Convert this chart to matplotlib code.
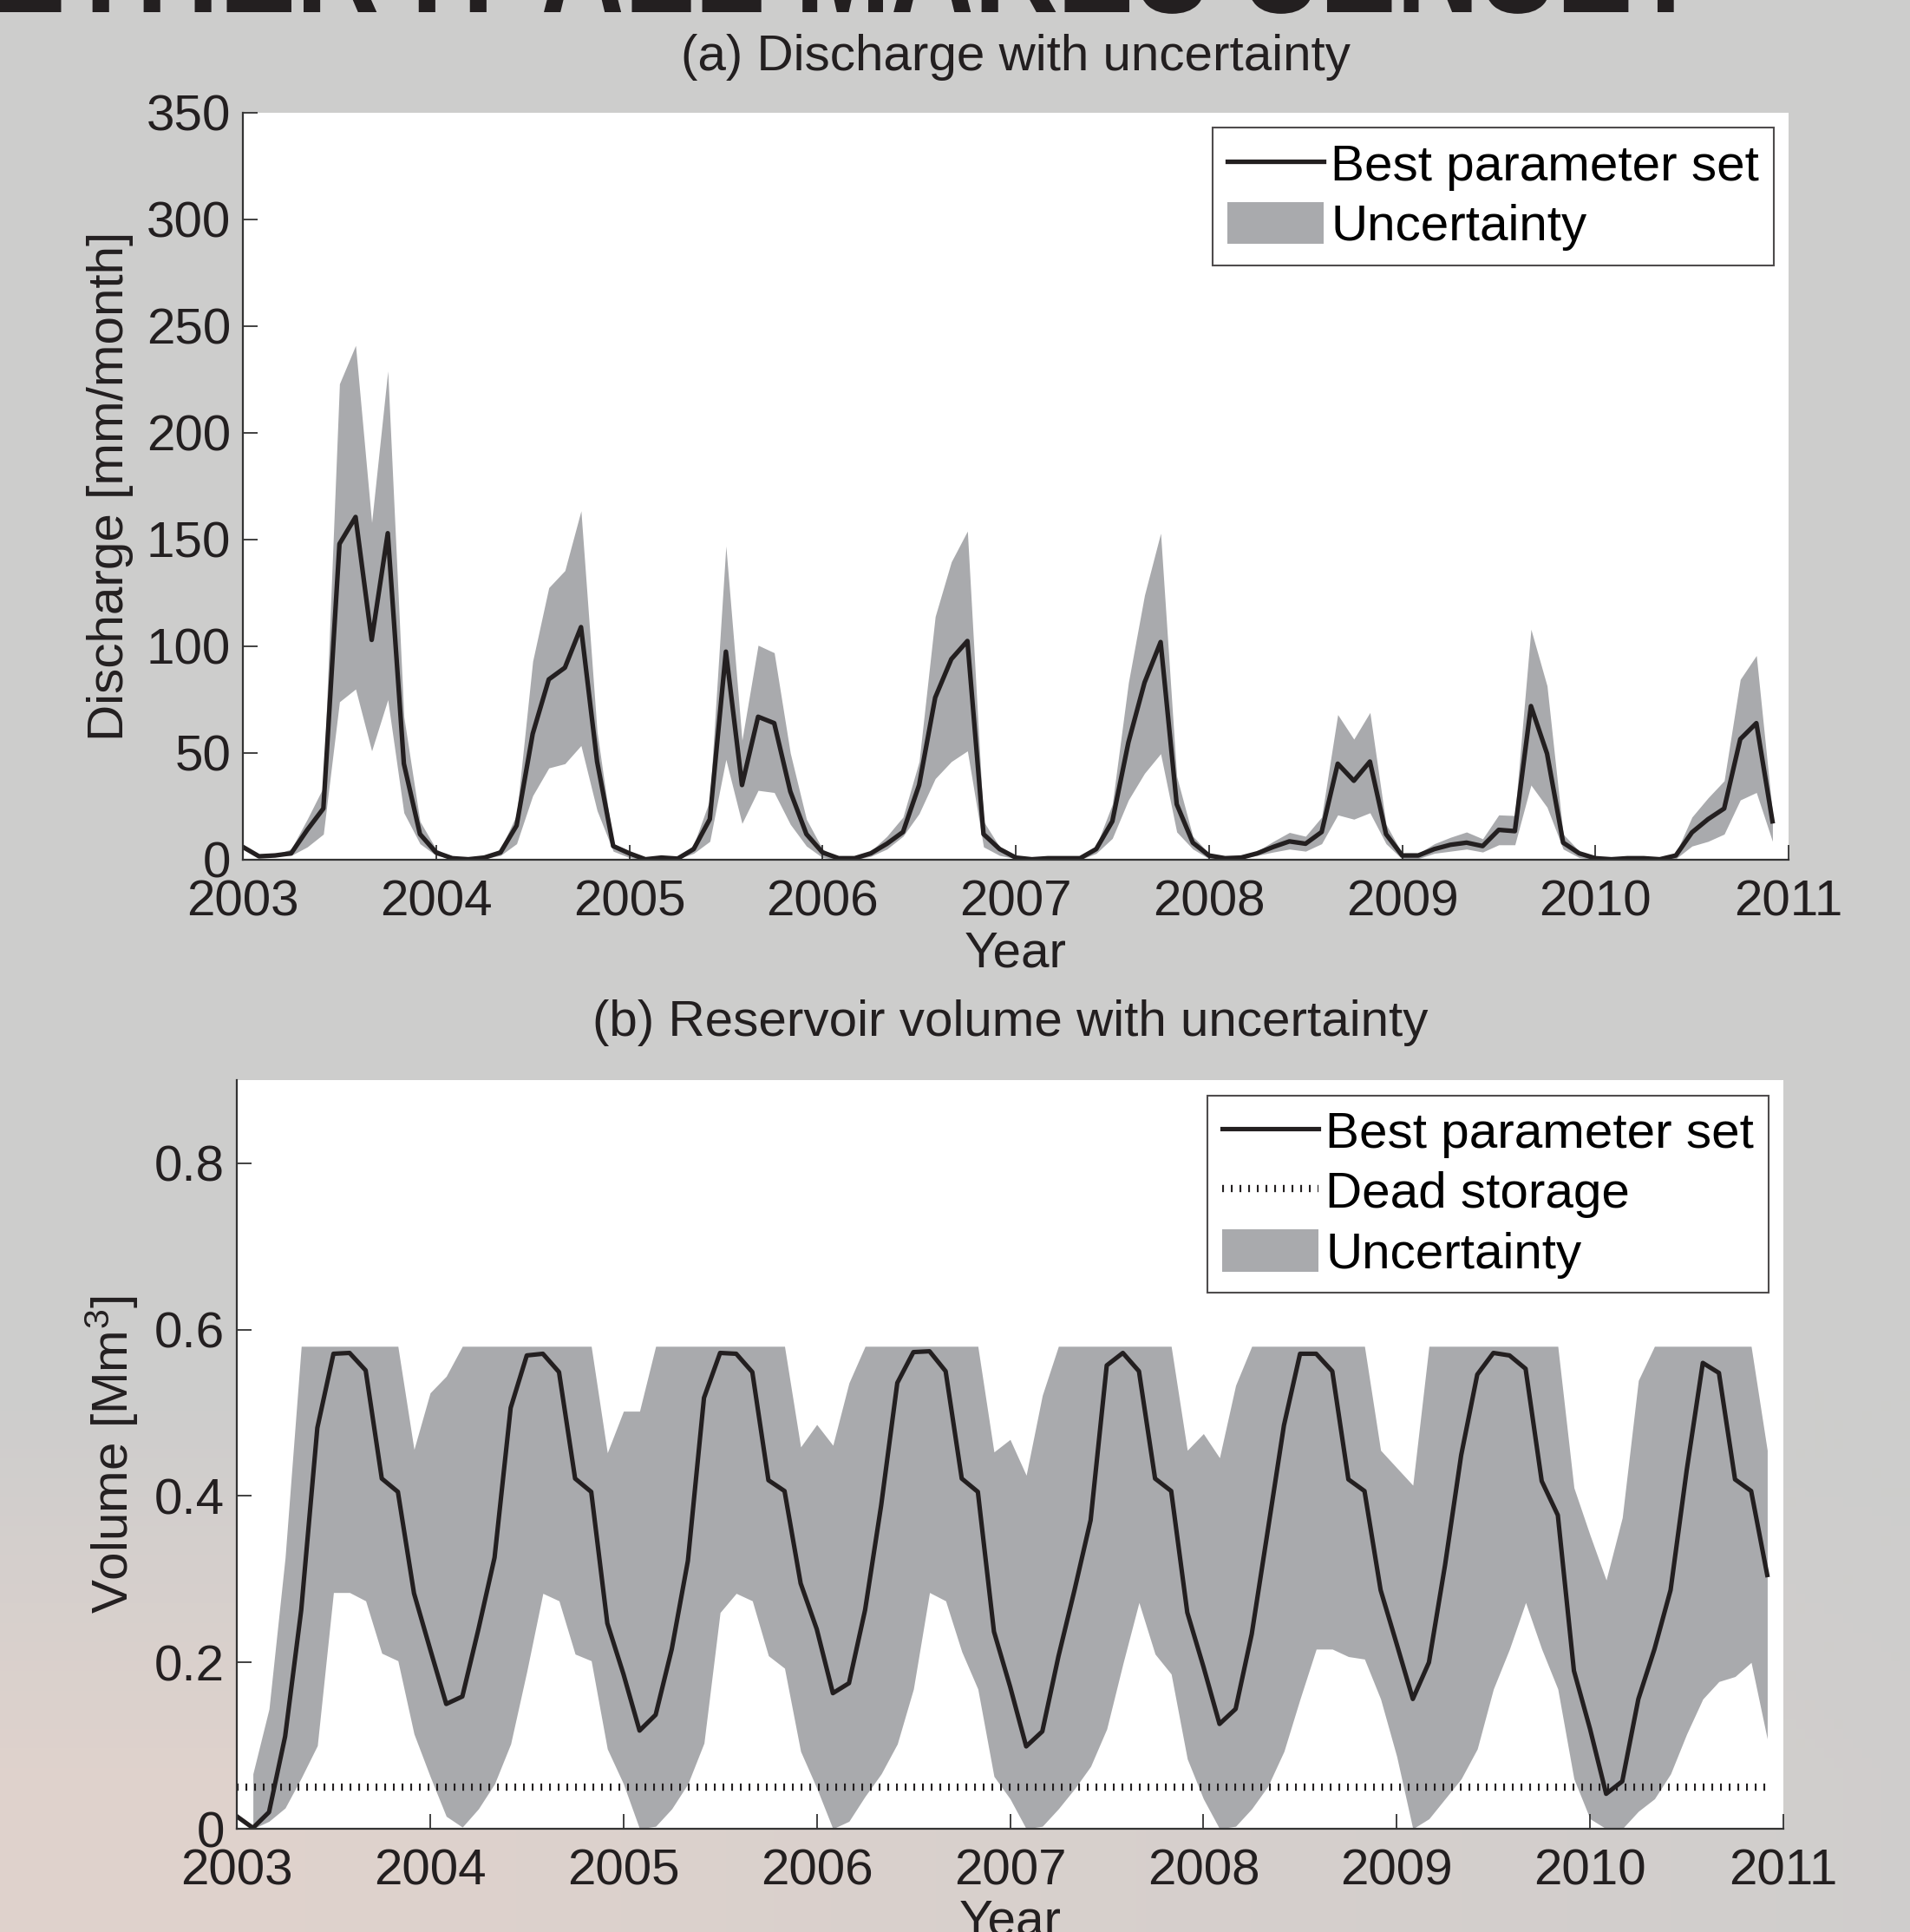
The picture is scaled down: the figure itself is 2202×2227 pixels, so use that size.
import numpy as np
import matplotlib
matplotlib.use("Agg")
import matplotlib.pyplot as plt
from matplotlib.textpath import TextPath
from matplotlib.patches import PathPatch
from matplotlib.font_manager import FontProperties
from matplotlib.transforms import Affine2D

plt.rcParams['font.family'] = ['Liberation Sans', 'DejaVu Sans']
plt.rcParams['mathtext.default'] = 'regular'

# monthly values 2003-01 .. 2010-12
years = [2003, 2004, 2005, 2006, 2007, 2008, 2009, 2010, 2011]

q_best = [6, 1.6, 2, 3, 14, 24, 148, 160.6, 103, 153, 45, 12,
          3.4, 0.7, 0.2, 1, 3.4, 16, 59, 84.5, 90, 109, 46, 6.4,
          3, 0.2, 1, 0.5, 5, 19, 97.5, 35, 67, 64, 32, 12,
          3.4, 0.7, 0.7, 3, 7.5, 13, 35, 76, 94, 102.5, 12, 5,
          1, 0.2, 0.7, 0.7, 0.7, 5, 18, 55, 83, 102, 26, 8,
          2, 0.7, 1, 3, 6, 8.6, 7.5, 13, 45, 37, 46, 12,
          2, 2, 5, 7, 8, 6.4, 14, 13.4, 72, 49.7, 8, 3,
          0.7, 0.2, 0.7, 0.7, 0.2, 2, 12.8, 19, 24, 56.5, 64, 18]
q_upper = [7, 1.8, 2.5, 5, 19, 34, 223, 241, 158, 229, 67, 18,
           5, 1, 0.3, 1, 5, 21, 93, 127.5, 135.5, 163.5, 60, 7.5,
           4, 0.5, 1, 0.5, 7, 28, 147, 56, 100.5, 97, 50, 19,
           5, 1, 1, 4, 11, 20, 46, 114, 139.6, 154, 18, 6,
           1.6, 0.5, 1, 1, 1, 6.4, 26, 83, 124, 153, 39, 11,
           3, 1, 1, 4, 8.6, 12.8, 11, 20, 68, 56.5, 69, 16.6,
           3, 3, 7.5, 10.5, 13, 9.8, 21, 20.7, 108, 81.5, 12, 4,
           1, 0.5, 1, 1, 0.5, 3, 20, 29, 37, 84.5, 95.7, 22]
q_lower = [5, 1.4, 2, 2, 6, 12, 74, 80, 51, 75, 22, 7.5,
           2, 0.5, 0, 0.5, 2, 7.5, 30, 43, 45, 53.5, 23, 4,
           1, 0, 0.5, 0.3, 3, 8.6, 47, 17, 32.5, 31.5, 16.6, 6.4,
           1, 0, 0, 1.6, 5, 11, 21.6, 38, 46, 51, 6, 2,
           0.5, 0, 0, 0, 0, 3, 10, 28, 40.5, 49.7, 13, 5,
           0.5, 0, 0.5, 2, 3.6, 5, 4, 7.5, 21, 19, 22, 7.5,
           0.3, 0.5, 3, 4, 5, 3.6, 7, 7, 35, 24.6, 5, 1,
           0, 0, 0, 0, 0, 0.5, 6.4, 8.6, 12, 28, 31.5, 8.6]

v_best = [0.015, 0.001, 0.02, 0.111, 0.263, 0.482, 0.571, 0.572, 0.551, 0.421, 0.405, 0.283,
          0.216, 0.150, 0.159, 0.240, 0.326, 0.506, 0.569, 0.571, 0.549, 0.421, 0.405, 0.247,
          0.186, 0.118, 0.137, 0.216, 0.322, 0.518, 0.572, 0.571, 0.549, 0.419, 0.406, 0.295,
          0.240, 0.163, 0.175, 0.263, 0.389, 0.536, 0.573, 0.574, 0.550, 0.421, 0.405, 0.237,
          0.171, 0.099, 0.117, 0.207, 0.287, 0.371, 0.557, 0.572, 0.550, 0.421, 0.406, 0.260,
          0.195, 0.126, 0.144, 0.234, 0.359, 0.485, 0.571, 0.571, 0.550, 0.420, 0.406, 0.287,
          0.222, 0.156, 0.200, 0.317, 0.449, 0.546, 0.572, 0.569, 0.553, 0.418, 0.377, 0.190,
          0.120, 0.042, 0.057, 0.156, 0.216, 0.287, 0.431, 0.560, 0.548, 0.420, 0.406, 0.305]
v_upper = [np.nan, 0.066, 0.144, 0.326, 0.58, 0.58, 0.58, 0.58, 0.58, 0.58, 0.58, 0.456,
           0.524, 0.544, 0.58, 0.58, 0.58, 0.58, 0.58, 0.58, 0.58, 0.58, 0.58, 0.452,
           0.502, 0.502, 0.58, 0.58, 0.58, 0.58, 0.58, 0.58, 0.58, 0.58, 0.58, 0.459,
           0.486, 0.461, 0.536, 0.58, 0.58, 0.58, 0.58, 0.58, 0.58, 0.58, 0.58, 0.453,
           0.468, 0.425, 0.521, 0.58, 0.58, 0.58, 0.58, 0.58, 0.58, 0.58, 0.58, 0.455,
           0.475, 0.446, 0.533, 0.58, 0.58, 0.58, 0.58, 0.58, 0.58, 0.58, 0.58, 0.455,
           0.434, 0.413, 0.58, 0.58, 0.58, 0.58, 0.58, 0.58, 0.58, 0.58, 0.58, 0.41,
           0.353, 0.299, 0.374, 0.539, 0.58, 0.58, 0.58, 0.58, 0.58, 0.58, 0.58, 0.455]
v_lower = [np.nan, 0, 0.009, 0.025, 0.061, 0.1, 0.284, 0.284, 0.274, 0.211, 0.202, 0.114,
           0.063, 0.015, 0.002, 0.024, 0.054, 0.102, 0.189, 0.283, 0.274, 0.21, 0.202, 0.096,
           0.054, 0, 0.003, 0.024, 0.054, 0.103, 0.26, 0.283, 0.274, 0.208, 0.193, 0.093,
           0.049, 0, 0.009, 0.039, 0.066, 0.102, 0.168, 0.284, 0.274, 0.213, 0.168, 0.063,
           0.036, 0, 0.003, 0.024, 0.048, 0.075, 0.12, 0.198, 0.272, 0.21, 0.186, 0.084,
           0.036, 0, 0.003, 0.024, 0.051, 0.093, 0.156, 0.216, 0.216, 0.207, 0.204, 0.156,
           0.087, 0, 0.012, 0.036, 0.06, 0.096, 0.168, 0.216, 0.272, 0.216, 0.168, 0.06,
           0.012, 0, 0, 0.021, 0.036, 0.066, 0.114, 0.156, 0.177, 0.183, 0.2, 0.108]
dead_storage = 0.05

t = 2003 + np.arange(len(q_best)) / 12.0

band_col = '#a9aaad'
line_col = '#231f20'
fs = 42
W, H = 2202, 2227

fig = plt.figure(figsize=(W / 100, H / 100), dpi=100)
fig.patch.set_facecolor('#cdcdcc')

# soft poster background (photo tint at bottom left)
bg = fig.add_axes([0, 0, 1, 1], zorder=-10)
yy, xx = np.mgrid[0:1:200j, 0:1:200j]
w = np.clip((yy - 0.72) / 0.2, 0, 1) * np.clip(1.15 - xx, 0.15, 1)
gray = np.array([0.804, 0.804, 0.800])
pink = np.array([0.875, 0.825, 0.80])
img = gray * (1 - w[..., None]) + pink * w[..., None]
bg.imshow(img, extent=[0, 1, 0, 1], aspect='auto', origin='upper')
bg.axis('off')

# poster headline, mostly cut off at the top edge
tp = TextPath((0, 0), "ETHER IT ALL MAKES SENSE?", size=100,
              prop=FontProperties(family='Liberation Sans', weight='bold'))
ext = tp.get_extents()
sx = 1960 / ext.width
sy = 1.9
tr = Affine2D().translate(-ext.x0, 0).scale(sx, sy).translate(-4, H - 14) \
    + Affine2D().scale(1.0 / W, 1.0 / H) + fig.transFigure
fig.add_artist(PathPatch(tp, transform=tr, facecolor=line_col, edgecolor='none'))

leg_kw = dict(loc='upper right', fontsize=fs, frameon=True, fancybox=False,
              edgecolor=line_col, handlelength=1.9, handleheight=0.9,
              handletextpad=0.15, labelspacing=0.22, borderpad=0.28,
              borderaxespad=0.3)


def style_axes(ax):
    ax.set_facecolor('white')
    for s in ['top', 'right']:
        ax.spines[s].set_visible(False)
    for s in ['left', 'bottom']:
        ax.spines[s].set_color('#333333')
        ax.spines[s].set_linewidth(1.6)
    ax.tick_params(direction='in', length=12, width=1.3, colors='#333333',
                   labelcolor=line_col, labelsize=fs, top=False, right=False)
    ax.tick_params(axis='x', pad=16)
    ax.tick_params(axis='y', pad=10)
    ax.set_xlim(2003, 2011)
    ax.set_xticks(years)
    ax.set_xticklabels([str(y) for y in years])


# (a) discharge
ax1 = fig.add_axes([280 / W, 1 - 991 / H, 1782 / W, 861 / H])
style_axes(ax1)
ax1.fill_between(t, q_lower, q_upper, color=band_col, linewidth=0, label='Uncertainty')
ax1.plot(t, q_best, color=line_col, lw=3.8, label='Best parameter set')
ax1.set_ylim(0, 350)
ax1.set_yticks(np.arange(0, 351, 50))
ax1.set_ylabel('Discharge [mm/month]', fontsize=fs, color=line_col)
ax1.yaxis.set_label_coords(-0.0705, 0.5)
ax1.set_xlabel('Year', fontsize=fs, color=line_col)
ax1.xaxis.set_label_coords(0.5, -0.095)
h, l = ax1.get_legend_handles_labels()
leg1 = ax1.legend(h[::-1], l[::-1], **leg_kw)
leg1.get_frame().set_linewidth(1.5)
fig.text(1171 / W, 1 - 66 / H, '(a) Discharge with uncertainty', ha='center',
         va='center', fontsize=fs, color=line_col)

# (b) reservoir volume
ax2 = fig.add_axes([273 / W, 1 - 2108 / H, 1783 / W, 863 / H])
style_axes(ax2)
ax2.fill_between(t, v_lower, v_upper, color=band_col, linewidth=0, label='Uncertainty')
ax2.plot(t, v_best, color=line_col, lw=3.7, label='Best parameter set')
ax2.plot(t, np.full(len(t), dead_storage), color=line_col, lw=6,
         linestyle=(0, (0.25, 0.95)), dash_capstyle='butt', label='Dead storage')
ax2.set_ylim(0, 0.9)
ax2.set_yticks([0, 0.2, 0.4, 0.6, 0.8])
ax2.set_yticklabels(['0', '0.2', '0.4', '0.6', '0.8'])
ax2.set_ylabel('Volume [Mm$^3$]', fontsize=fs, color=line_col)
ax2.yaxis.set_label_coords(-0.062, 0.5)
ax2.set_xlabel('Year', fontsize=fs, color=line_col)
ax2.xaxis.set_label_coords(0.5, -0.093)
h, l = ax2.get_legend_handles_labels()
order = [1, 2, 0]
leg2 = ax2.legend([h[i] for i in order], [l[i] for i in order], **leg_kw)
leg2.get_frame().set_linewidth(1.5)
fig.text(1165 / W, 1 - 1179 / H, '(b) Reservoir volume with uncertainty', ha='center',
         va='center', fontsize=fs, color=line_col)

fig.savefig('out.png', dpi=100, facecolor=fig.get_facecolor())
